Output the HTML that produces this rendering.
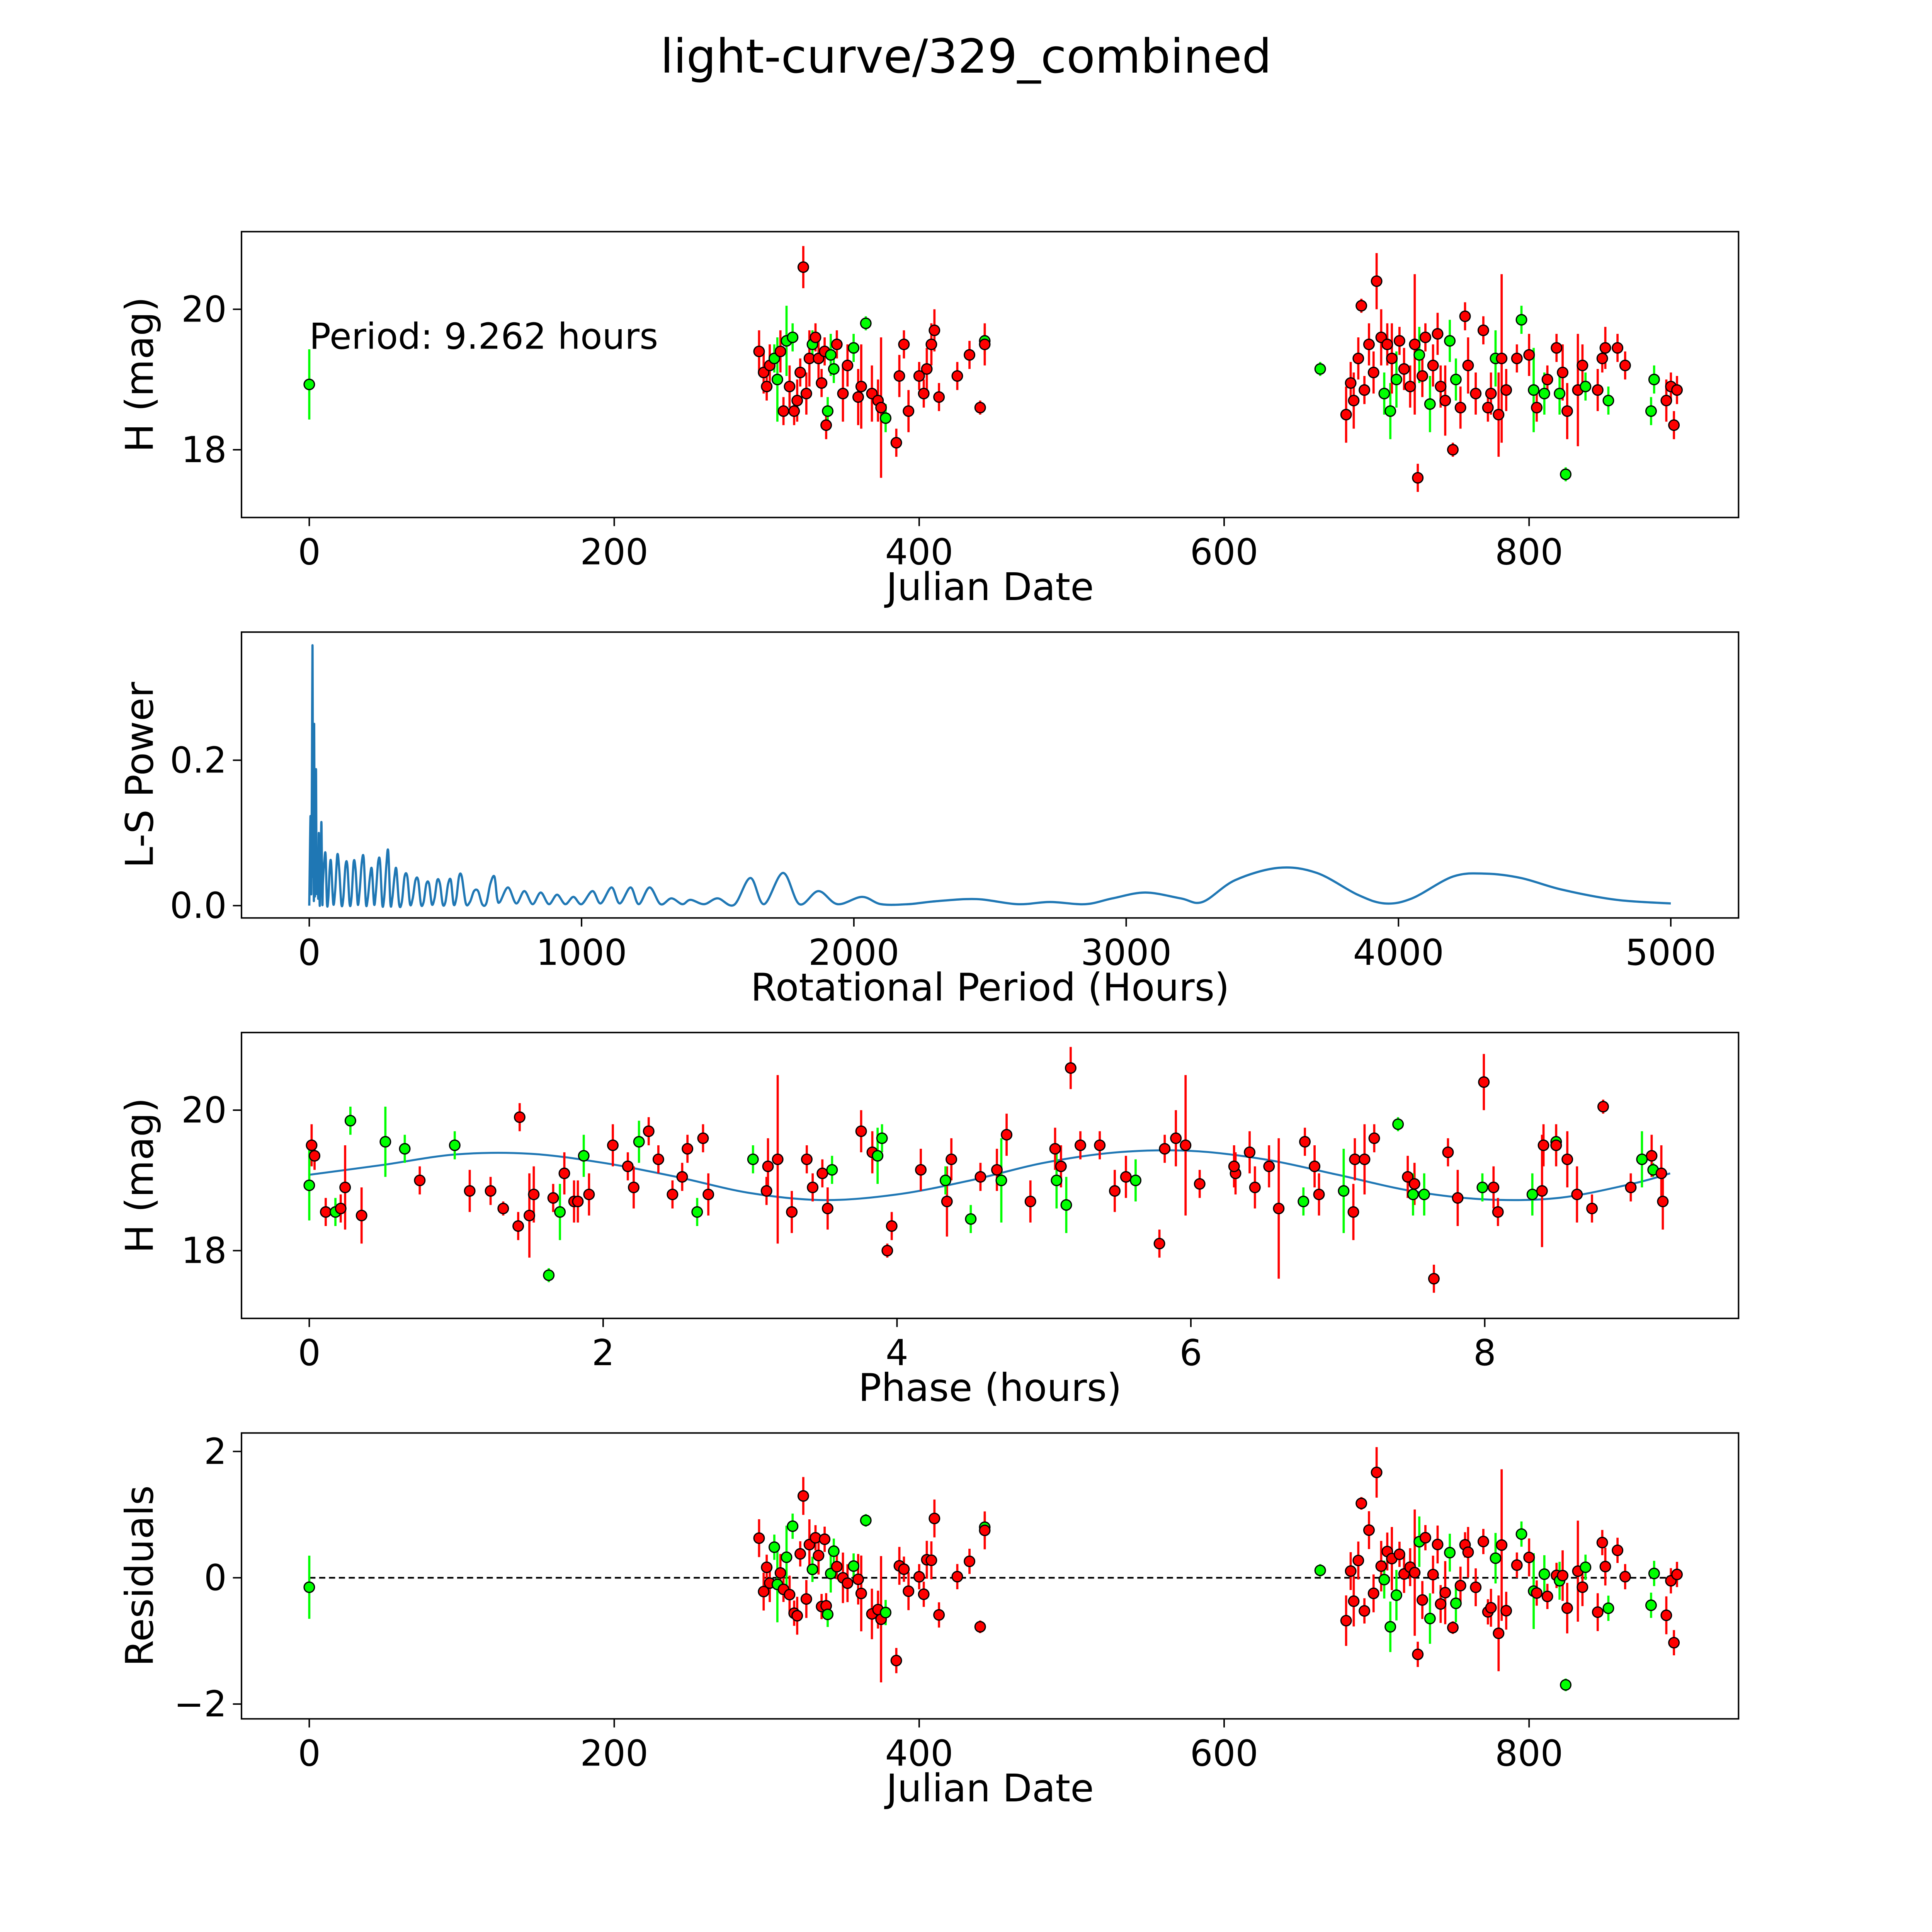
<!DOCTYPE html>
<html><head><meta charset="utf-8"><style>
html,body{margin:0;padding:0;background:#fff;width:100%;height:100%;overflow:hidden}
svg{display:block;width:100vw;height:100vh}
text{font-family:"DejaVu Sans","Liberation Sans",sans-serif;fill:#000}
</style></head><body>
<svg id="fig" xmlns="http://www.w3.org/2000/svg" viewBox="0 0 1568 1568" preserveAspectRatio="none">
<rect width="1568" height="1568" fill="#fff"/>
<text x="784" y="59" font-size="38" text-anchor="middle">light-curve/329_combined</text>
</svg>
<script>
// Observations: Julian date, H mag, error, filter colour
const obsDate=[0,295,298,300,302,305,307,309,311,313,315,317,318,320,322,324,326,328,330,332,334,336,338,339,340,342,344,346,350,353,357,360,362,365,369,373,375,378,385,387,390,393,400,403,405,408,410,413,425,433,440,443,443,
663,680,683,685,688,690,692,695,698,700,703,705,707,709,710,713,715,718,722,725,727,728,730,732,735,737,740,742,745,748,750,752,755,758,760,765,770,773,775,778,780,782,785,792,795,800,803,805,810,812,818,820,822,824,825,832,835,837,845,848,850,852,858,863,880,882,890,893,895,897];
const obsMag=[18.93,19.4,19.1,18.9,19.2,19.3,19.0,19.4,18.55,19.55,18.9,19.6,18.55,18.7,19.1,20.6,18.8,19.3,19.5,19.6,19.3,18.95,19.4,18.35,18.55,19.35,19.15,19.5,18.8,19.2,19.45,18.75,18.9,19.8,18.8,18.7,18.6,18.45,18.1,19.05,19.5,18.55,19.05,18.8,19.15,19.5,19.7,18.75,19.05,19.35,18.6,19.55,19.5,
19.15,18.5,18.95,18.7,19.3,20.05,18.85,19.5,19.1,20.4,19.6,18.8,19.5,18.55,19.3,19.0,19.55,19.15,18.9,19.5,17.6,19.35,19.05,19.6,18.65,19.2,19.65,18.9,18.7,19.55,18.0,19.0,18.6,19.9,19.2,18.8,19.7,18.6,18.8,19.3,18.5,19.3,18.85,19.3,19.85,19.35,18.85,18.6,18.8,19.0,19.45,18.8,19.1,17.65,18.55,18.85,19.2,18.9,18.85,19.3,19.45,18.7,19.45,19.2,18.55,19.0,18.7,18.9,18.35,18.85];
const obsErr=[0.5,0.3,0.3,0.2,0.3,0.2,0.6,0.3,0.2,0.5,0.3,0.2,0.2,0.3,0.2,0.3,0.3,0.4,0.2,0.2,0.3,0.2,0.2,0.2,0.2,0.3,0.2,0.2,0.4,0.3,0.2,0.4,0.6,0.1,0.4,0.3,1.0,0.2,0.2,0.3,0.2,0.3,0.2,0.2,0.3,0.3,0.3,0.2,0.2,0.2,0.1,0.2,0.3,
0.1,0.4,0.3,0.4,0.3,0.1,0.2,0.3,0.3,0.4,0.4,0.3,0.3,0.4,0.5,0.4,0.2,0.3,0.3,1.0,0.2,0.4,0.3,0.2,0.4,0.3,0.3,0.3,0.5,0.3,0.1,0.3,0.3,0.2,0.4,0.3,0.2,0.2,0.3,0.4,0.6,1.2,0.3,0.2,0.2,0.3,0.6,0.2,0.3,0.2,0.2,0.3,0.4,0.1,0.4,0.8,0.3,0.2,0.3,0.2,0.3,0.2,0.2,0.2,0.2,0.2,0.3,0.2,0.2,0.2];
const obsBand="grrrrgg rrgrgrrrrrrgrrrrrgggrrrgrrgrrrgrrrrrrrrrrrrrg rgrrrrrrrrrrgrgrgrrrrrgrrgrrrrgrgrrrrrrrgrrrrgrgrgrrgrgrrrgrrrgrrggr".replace(/ /g,"");
// Periodogram
const lsPeriod=[0,3,5,7,8,10,12,14,15,17,18,20,22,24,25,27,30,33,35,38,40,43,45,48,50,55,60,65,70,75,80,88,95,103,110,118,125,133,140,148,155,163,170,178,185,193,200,208,215,223,230,238,245,253,260,268,275,283,290,298,305,313,320,330,340,350,360,370,380,390,400,410,420,430,440,450,460,470,480,490,500,510,520,530,540,550,560,575,590,605,620,635,650,665,680,690,700,730,760,790,820,850,880,910,940,970,1000,1040,1070,1110,1140,1180,1210,1250,1290,1330,1370,1400,1450,1500,1560,1620,1670,1740,1800,1870,1940,2030,2100,2200,2300,2450,2600,2720,2850,2950,3070,3200,3280,3400,3560,3700,3850,3950,4050,4200,4320,4450,4600,4800,5000];
const lsPower=[0,0.09,0.12,0.02,0.05,0.2,0.355,0.05,0.1,0.01,0.25,0.03,0.04,0.15,0.18,0.02,0.06,0.01,0.1,0.005,0.02,0.09,0.11,0.004,0.03,0.06,0.07,0.003,0.01,0.05,0.06,0.003,0.02,0.07,0.05,0.002,0.01,0.055,0.055,0.003,0.01,0.06,0.05,0.002,0.02,0.06,0.065,0.003,0.01,0.04,0.05,0.002,0.02,0.06,0.06,0.002,0.01,0.055,0.075,0.003,0.01,0.04,0.05,0.002,0.005,0.04,0.04,0.002,0.01,0.035,0.035,0.002,0.005,0.03,0.03,0.002,0.01,0.035,0.03,0.002,0.005,0.03,0.035,0.002,0.01,0.04,0.04,0.003,0.005,0.02,0.02,0.002,0.003,0.03,0.04,0.01,0.005,0.025,0.003,0.02,0.002,0.018,0.002,0.015,0.002,0.012,0.002,0.02,0.003,0.025,0.003,0.025,0.002,0.025,0.002,0.01,0.002,0.008,0.002,0.01,0.001,0.038,0.002,0.045,0.002,0.02,0.002,0.012,0.002,0.002,0.006,0.009,0.002,0.005,0.002,0.01,0.018,0.01,0.005,0.035,0.052,0.045,0.015,0.003,0.01,0.04,0.044,0.038,0.022,0.008,0.003];
// Fitted model vs phase
const modelPhase=[0,0.5,1,1.5,2,2.5,3,3.5,4,4.5,5,5.5,6,6.5,7,7.5,8,8.5,9,9.262];
const modelMag=[19.08,19.22,19.37,19.38,19.25,19.05,18.82,18.72,18.8,19.0,19.25,19.4,19.42,19.3,19.08,18.85,18.73,18.75,18.95,19.1];
const PERIOD=9.262;
const xTicksJD=[0,200,400,600,800], magTicks=[18,20], lsXTicks=[0,1000,2000,3000,4000,5000], lsYTicks=[0,0.2], phaseTicks=[0,2,4,6,8], resTicks=[-2,0,2];

const NS="http://www.w3.org/2000/svg", svg=document.getElementById('fig');
function el(t,a,p){const e=document.createElementNS(NS,t);for(const k in a)e.setAttribute(k,a[k]);(p||svg).appendChild(e);return e;}
function lin(d0,d1,r0,r1){return v=>r0+(v-d0)*(r1-r0)/(d1-d0);}
const L=196,R=1411;
function panel(top,name,xs,ys,xt,yt,xfmt,yfmt,xlabel,ylabel){
  const g=el('g',{});
  
  
  const b=top+232;
  xt.forEach(v=>{const x=xs(v);el('line',{x1:x,x2:x,y1:b,y2:b+7,stroke:'#000','stroke-width':1.2},g);
    const t=el('text',{x:x,y:b+38,'font-size':29,'text-anchor':'middle'},g);t.textContent=xfmt(v);
    
    });
  yt.forEach(v=>{const y=ys(v);el('line',{x1:L-7,x2:L,y1:y,y2:y,stroke:'#000','stroke-width':1.2},g);
    const t=el('text',{x:L-12,y:y+10,'font-size':29,'text-anchor':'end'},g);t.textContent=yfmt(v);
    
    });
  const xl=el('text',{x:(L+R)/2,y:b+67,'font-size':31,'text-anchor':'middle'},g);xl.textContent=xlabel;
  
  
  const cy=top+116, yl=el('text',{x:0,y:0,'font-size':31,'text-anchor':'middle',transform:`translate(${L-72},${cy}) rotate(-90)`},g);yl.textContent=ylabel;
  
  
  const plot=el('g',{},g);
  
  
  el('rect',{x:L,y:top,width:R-L,height:232,fill:'none',stroke:'#000','stroke-width':1.2},g);
  return plot;
}
function smooth(pts){let d=`M${pts[0][0]},${pts[0][1]}`;for(let i=0;i<pts.length-1;i++){const p0=pts[Math.max(0,i-1)],p1=pts[i],p2=pts[i+1],p3=pts[Math.min(pts.length-1,i+2)];
  d+=` C${p1[0]+(p2[0]-p0[0])/6},${p1[1]+(p2[1]-p0[1])/6} ${p2[0]-(p3[0]-p1[0])/6},${p2[1]-(p3[1]-p1[1])/6} ${p2[0]},${p2[1]}`;}return d;}
function modelAt(p){for(let i=0;i<modelPhase.length-1;i++){if(p<=modelPhase[i+1]){const t=(p-modelPhase[i])/(modelPhase[i+1]-modelPhase[i]);return modelMag[i]+t*(modelMag[i+1]-modelMag[i]);}}return modelMag[modelMag.length-1];}
const col=c=>c==='g'?'#00ff00':'#ff0000';
function points(g,xs,ys,xv,yv,name){
  for(let i=0;i<xv.length;i++){const x=xs(xv[i]),c=col(obsBand[i]);
    const e=el('line',{x1:x,x2:x,y1:ys(yv[i]-obsErr[i]),y2:ys(yv[i]+obsErr[i]),stroke:c,'stroke-width':1.8},g);
    
    }
  for(let i=0;i<xv.length;i++){const c=el('circle',{cx:xs(xv[i]),cy:ys(yv[i]),r:4.2,fill:col(obsBand[i]),stroke:'#000','stroke-width':1},g);
    
    }
}
const fmtInt=v=>String(v), fmtMinus=v=>String(v).replace('-','\u2212');
// Panel 1
const xJD=lin(0,800,251,1241);
const y1=lin(18,20,365,251);
const p1=panel(188,'light-curve-panel',xJD,y1,xTicksJD,magTicks,fmtInt,fmtInt,'Julian Date','H (mag)');
points(p1,xJD,y1,obsDate,obsMag,'observation');
const pt=el('text',{x:251,y:283,'font-size':29});pt.textContent='Period: 9.262 hours';


// Panel 2
const xLS=lin(0,5000,251,1356), yLS=lin(0,0.2,735,617);
const p2=panel(513,'periodogram-panel',xLS,yLS,lsXTicks,lsYTicks,fmtInt,v=>v.toFixed(1),'Rotational Period (Hours)','L-S Power');
const lsPts=lsPeriod.map((p,i)=>[xLS(p),yLS(lsPower[i])]);
const lp=el('path',{d:smooth(lsPts),fill:'none',stroke:'#1f77b4','stroke-width':1.8},p2);


// Panel 3
const xPh=lin(0,8,251,1205), y3=lin(18,20,1015,901);
const p3=panel(838,'phase-panel',xPh,y3,phaseTicks,magTicks,fmtInt,fmtInt,'Phase (hours)','H (mag)');
const phases=obsDate.map(d=>((d*24)%PERIOD+PERIOD)%PERIOD);
const mp=el('path',{d:smooth(modelPhase.map((p,i)=>[xPh(p),y3(modelMag[i])])),fill:'none',stroke:'#1f77b4','stroke-width':1.6},p3);


points(p3,xPh,y3,phases,obsMag,'phased-observation');
// Panel 4
const y4=lin(-2,2,1383,1178);
const p4=panel(1163,'residuals-panel',xJD,y4,xTicksJD,resTicks,fmtInt,fmtMinus,'Julian Date','Residuals');
const zl=el('line',{x1:xJD(0),x2:xJD(897),y1:y4(0),y2:y4(0),stroke:'#000','stroke-width':1.4,'stroke-dasharray':'5,3'},p4);


const resid=obsMag.map((m,i)=>m-modelAt(phases[i]));
points(p4,xJD,y4,obsDate,resid,'residual');
</script>
</body></html>
